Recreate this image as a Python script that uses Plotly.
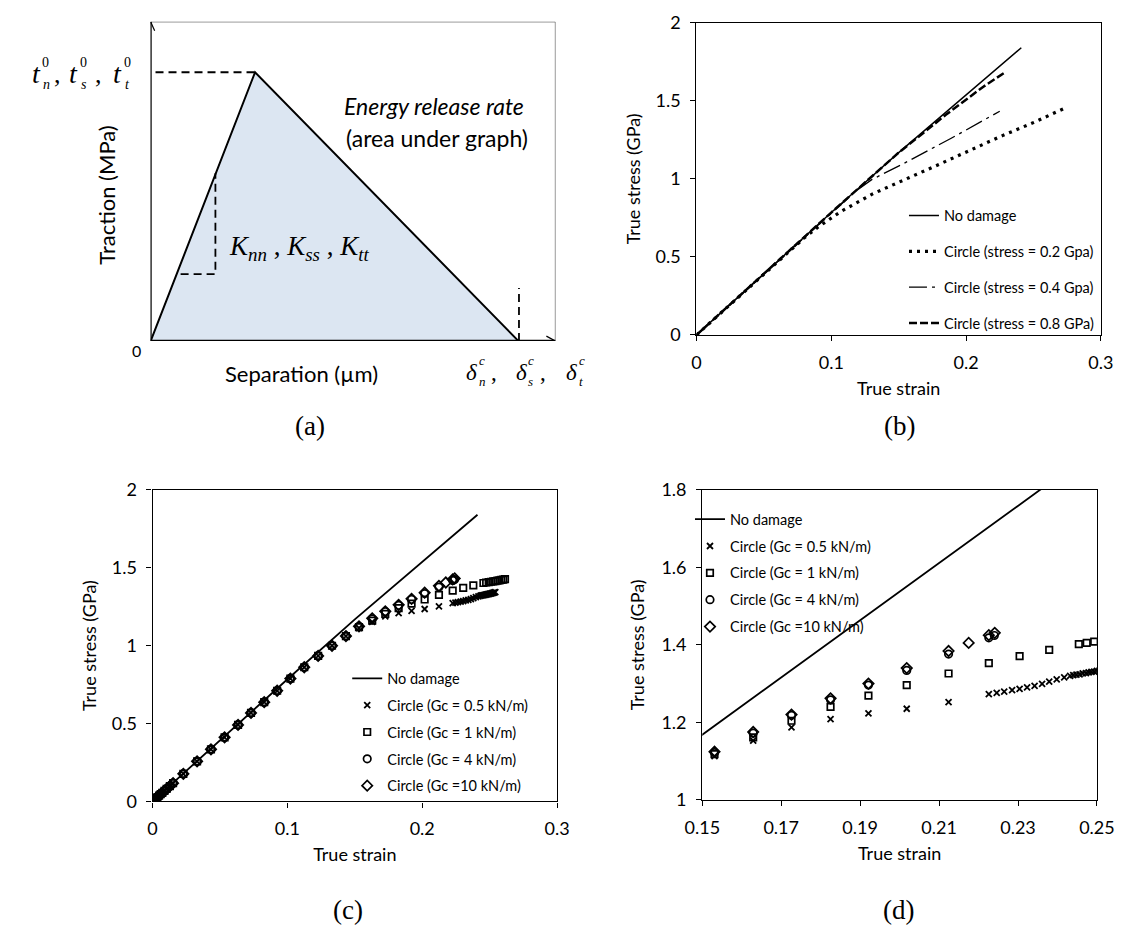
import plotly.graph_objects as go

W, H = 1135, 939
SANS = "Lato"
SERIF = "Liberation Serif"

# ---------------- Panel (a): schematic traction-separation law (normalised units)
sep_law = [0.0, 0.258, 0.909]
trac_law = [0.0, 0.842, 0.0]
peak_guide_sep = [0.012, 0.258]
peak_guide_trac = [0.842, 0.842]
slope_guide_sep = [0.074, 0.160, 0.160]
slope_guide_trac = [0.210, 0.210, 0.526]
end_guide_sep = [0.910, 0.910]
end_guide_trac = [0.0, 0.166]

# ---------------- Panel (b): stress-strain curves, circle damage with different stress
nd_strain = [0.0, 0.10, 0.15, 0.2354, 0.241]
nd_stress = [0.0, 0.784, 1.168, 1.80, 1.84]

s02_strain = [0.0, 0.05, 0.08, 0.09, 0.10, 0.107, 0.131, 0.155, 0.179, 0.203, 0.227, 0.251, 0.272]
s02_stress = [0.0, 0.392, 0.622, 0.690, 0.752, 0.790, 0.905, 0.995, 1.089, 1.183, 1.277, 1.364, 1.448]

s04_strain = [0.0, 0.10, 0.118, 0.130, 0.153, 0.189, 0.225]
s04_stress = [0.0, 0.784, 0.920, 0.995, 1.095, 1.260, 1.433]

s08_strain = [0.0, 0.10, 0.15, 0.185, 0.2126, 0.229]
s08_stress = [0.0, 0.784, 1.168, 1.410, 1.589, 1.683]

# ---------------- Panels (c) & (d): circle damage with different Gc
g05_strain = [0.0, 0.0012, 0.0024, 0.0036, 0.0048, 0.006, 0.0072, 0.0088, 0.0104, 0.0128,
              0.0152, 0.0228, 0.033, 0.0433, 0.0534, 0.0634, 0.073, 0.0828, 0.0924, 0.1022,
              0.1125, 0.1228, 0.1331, 0.1434,
              0.1531, 0.1629, 0.1726, 0.1825, 0.1921, 0.2018, 0.2124, 0.2226, 0.2246, 0.2265,
              0.2285, 0.2304, 0.2323, 0.2342, 0.2361, 0.2379, 0.2398, 0.2417, 0.2432, 0.2440,
              0.2448, 0.2456, 0.2464, 0.2472, 0.2479, 0.2486, 0.2493, 0.2500, 0.2507, 0.2514,
              0.2521, 0.2528, 0.2535, 0.2542]
g05_stress = [0.0, 0.009, 0.018, 0.028, 0.037, 0.046, 0.055, 0.067, 0.080, 0.098,
              0.117, 0.177, 0.257, 0.334, 0.411, 0.491, 0.568, 0.637, 0.710, 0.788,
              0.861, 0.934, 0.999, 1.061,
              1.113, 1.153, 1.187, 1.208, 1.223, 1.235, 1.252, 1.273, 1.276, 1.279,
              1.283, 1.286, 1.290, 1.294, 1.299, 1.305, 1.311, 1.316, 1.320, 1.322,
              1.323, 1.324, 1.326, 1.327, 1.329, 1.330, 1.331, 1.333, 1.334, 1.336,
              1.338, 1.339, 1.341, 1.343]

g1_strain = [0.0, 0.0012, 0.0024, 0.0036, 0.0048, 0.006, 0.0072, 0.0088, 0.0104, 0.0128,
             0.0152, 0.0228, 0.033, 0.0433, 0.0534, 0.0634, 0.073, 0.0828, 0.0924, 0.1022,
             0.1125, 0.1228, 0.1331, 0.1434,
             0.1531, 0.1629, 0.1726, 0.1825, 0.1921, 0.2018, 0.2124, 0.2226, 0.2304, 0.2379,
             0.2454, 0.2474, 0.2493, 0.2511, 0.2527, 0.2543, 0.2558, 0.2573, 0.2587, 0.2601,
             0.2614]
g1_stress = [0.0, 0.009, 0.018, 0.028, 0.037, 0.046, 0.055, 0.067, 0.080, 0.098,
             0.117, 0.177, 0.257, 0.334, 0.411, 0.491, 0.568, 0.637, 0.710, 0.788,
             0.861, 0.934, 0.999, 1.061,
             1.118, 1.161, 1.204, 1.240, 1.269, 1.296, 1.326, 1.353, 1.371, 1.387,
             1.402, 1.405, 1.408, 1.410, 1.412, 1.414, 1.417, 1.419, 1.422, 1.424,
             1.427]

g4_strain = [0.0, 0.0012, 0.0024, 0.0036, 0.0048, 0.006, 0.0072, 0.0088, 0.0104, 0.0128,
             0.0152, 0.0228, 0.033, 0.0433, 0.0534, 0.0634, 0.073, 0.0828, 0.0924, 0.1022,
             0.1125, 0.1228, 0.1331, 0.1434,
             0.1531, 0.1629, 0.1726, 0.1825, 0.1921, 0.2018, 0.2124, 0.2226, 0.2240]
g4_stress = [0.0, 0.009, 0.018, 0.028, 0.037, 0.046, 0.055, 0.067, 0.080, 0.098,
             0.117, 0.177, 0.257, 0.334, 0.411, 0.491, 0.568, 0.637, 0.710, 0.788,
             0.861, 0.934, 0.999, 1.061,
             1.122, 1.172, 1.218, 1.258, 1.296, 1.334, 1.376, 1.418, 1.424]

g10_strain = [0.0, 0.0012, 0.0024, 0.0036, 0.0048, 0.006, 0.0072, 0.0088, 0.0104, 0.0128,
              0.0152, 0.0228, 0.033, 0.0433, 0.0534, 0.0634, 0.073, 0.0828, 0.0924, 0.1022,
              0.1125, 0.1228, 0.1331, 0.1434,
              0.1531, 0.1629, 0.1726, 0.1825, 0.1921, 0.2018, 0.2124, 0.2175, 0.2226, 0.2241]
g10_stress = [0.0, 0.009, 0.018, 0.028, 0.037, 0.046, 0.055, 0.067, 0.080, 0.098,
              0.117, 0.177, 0.257, 0.334, 0.411, 0.491, 0.568, 0.637, 0.710, 0.788,
              0.861, 0.934, 0.999, 1.061,
              1.124, 1.175, 1.220, 1.262, 1.300, 1.340, 1.384, 1.405, 1.425, 1.431]

# tick labels
full_x_ticks = [0, 0.1, 0.2, 0.3]
full_x_text = ["0", "0.1", "0.2", "0.3"]
full_y_ticks = [0, 0.5, 1, 1.5, 2]
full_y_text = ["0", "0.5", "1", "1.5", "2"]
zoom_x_ticks = [0.15, 0.17, 0.19, 0.21, 0.23, 0.25]
zoom_x_text = ["0.15", "0.17", "0.19", "0.21", "0.23", "0.25"]
zoom_y_ticks = [1.0, 1.2, 1.4, 1.6, 1.8]
zoom_y_text = ["1", "1.2", "1.4", "1.6", "1.8"]

legend_b = ["No damage", "Circle (stress = 0.2 Gpa)", "Circle (stress = 0.4 Gpa)",
            "Circle (stress = 0.8 GPa)"]
legend_cd = ["No damage", "Circle (Gc = 0.5 kN/m)", "Circle (Gc = 1 kN/m)",
             "Circle (Gc = 4 kN/m)", "Circle (Gc =10 kN/m)"]


def px(x):
    return x / W


def py(y):
    return 1 - y / H


fig = go.Figure()

# ---------- panel (a) traces
fig.add_trace(go.Scatter(x=sep_law + [sep_law[0]], y=trac_law + [trac_law[0]],
                         xaxis="x", yaxis="y", mode="lines", fill="toself",
                         fillcolor="rgb(220,230,242)", line=dict(color="black", width=2),
                         showlegend=False, hoverinfo="skip"))
for gx, gy in [(peak_guide_sep, peak_guide_trac), (slope_guide_sep, slope_guide_trac),
               (end_guide_sep, end_guide_trac)]:
    fig.add_trace(go.Scatter(x=gx, y=gy, xaxis="x", yaxis="y", mode="lines",
                             line=dict(color="black", width=1.8, dash="8px,5px"),
                             showlegend=False, hoverinfo="skip"))

# ---------- panel (b) traces
b_styles = [
    (nd_strain, nd_stress, dict(color="black", width=1.5)),
    (s02_strain, s02_stress, dict(color="black", width=3.2, dash="3px,5px")),
    (s04_strain, s04_stress, dict(color="black", width=1.3, dash="18px,5px,3px,5px")),
    (s08_strain, s08_stress, dict(color="black", width=2.5, dash="8px,3px")),
]
for i, ((xs, ys, ln), name) in enumerate(zip(b_styles, legend_b)):
    fig.add_trace(go.Scatter(x=xs, y=ys, xaxis="x2", yaxis="y2", mode="lines", line=ln,
                             name=name, legend="legend2", legendgroup=f"b{i}"))

# ---------- panels (c) and (d)
marker_series = [
    (g05_strain, g05_stress, dict(symbol="x-thin-open", size=6, line=dict(color="black", width=1.8))),
    (g1_strain, g1_stress, dict(symbol="square-open", size=6.5, line=dict(color="black", width=1.7))),
    (g4_strain, g4_stress, dict(symbol="circle-open", size=7.5, line=dict(color="black", width=1.7))),
    (g10_strain, g10_stress, dict(symbol="diamond-open", size=8, line=dict(color="black", width=1.7))),
]
for xa, ya, lg in [("x3", "y3", "legend3"), ("x4", "y4", "legend4")]:
    fig.add_trace(go.Scatter(x=nd_strain, y=nd_stress, xaxis=xa, yaxis=ya, mode="lines",
                             line=dict(color="black", width=1.8), name=legend_cd[0],
                             legend=lg, legendgroup=lg + "0"))
    for j, (xs, ys, mk) in enumerate(marker_series):
        fig.add_trace(go.Scatter(x=xs, y=ys, xaxis=xa, yaxis=ya, mode="markers",
                                 marker=dict(color="black", **mk),
                                 name=legend_cd[j + 1], legend=lg, legendgroup=lg + str(j + 1)))


def data_axis(domain, rng, tv, tt, anchor, title, standoff):
    return dict(domain=domain, range=rng, tickvals=tv, ticktext=tt, anchor=anchor,
                ticks="outside", ticklen=5, tickwidth=1.2, tickcolor="black",
                showline=True, linecolor="black", linewidth=1.3, mirror=True,
                showgrid=False, zeroline=False, ticklabelstandoff=6,
                tickfont=dict(family=SANS, size=18, color="black"),
                title=dict(text=title, font=dict(family=SANS, size=18, color="black"),
                           standoff=standoff))


layout = dict(
    width=W, height=H, margin=dict(l=0, r=0, t=0, b=0),
    plot_bgcolor="white", paper_bgcolor="white", showlegend=True,
    xaxis=dict(domain=[px(137), px(555)], range=[0, 1], visible=False, anchor="y"),
    yaxis=dict(domain=[py(337), py(10)], range=[0, 1], visible=False, anchor="x"),
    xaxis2=data_axis([px(700.7), px(1118.3)], [0, 0.3], full_x_ticks, full_x_text, "y2", "True strain", 10),
    yaxis2=data_axis([py(330.7), py(11)], [0, 2], full_y_ticks, full_y_text, "x2", "True stress (GPa)", 10),
    xaxis3=data_axis([px(139), px(556.7)], [0, 0.3], full_x_ticks, full_x_text, "y3", "True strain", 10),
    yaxis3=data_axis([py(808.3), py(489.3)], [0, 2], full_y_ticks, full_y_text, "x3", "True stress (GPa)", 10),
    xaxis4=data_axis([px(706.7), px(1114.3)], [0.15, 0.25], zoom_x_ticks, zoom_x_text, "y4", "True strain", 10),
    yaxis4=data_axis([py(806.7), py(489.3)], [1.0, 1.8], zoom_y_ticks, zoom_y_text, "x4", "True stress (GPa)", 12),
)

leg_common = dict(bgcolor="rgba(0,0,0,0)", borderwidth=0, traceorder="grouped",
                  xanchor="left", yanchor="top", itemclick=False,
                  font=dict(family=SANS, size=14.5, color="black"))
layout["legend2"] = dict(x=px(915), y=py(192), tracegroupgap=14, **leg_common)
layout["legend3"] = dict(x=px(340), y=py(666), tracegroupgap=5, **leg_common)
layout["legend4"] = dict(x=px(694), y=py(503), tracegroupgap=5, **leg_common)
fig.update_layout(**layout)

# ---------- panel (a) frame, axes and arrows
shapes = [
    dict(type="rect", xref="x", yref="y", x0=0, x1=1, y0=0, y1=1, line=dict(color="#222", width=1)),
    dict(type="line", xref="x", yref="y", x0=0, x1=0, y0=0, y1=1, line=dict(color="black", width=2)),
    dict(type="line", xref="x", yref="y", x0=0, x1=1, y0=0, y1=0, line=dict(color="black", width=2.5)),
]
for dx, dy in [(-4, -9), (4, -9)]:
    shapes.append(dict(type="line", xref="x", yref="y", xsizemode="pixel", ysizemode="pixel",
                       xanchor=0, yanchor=1, x0=dx, y0=dy, x1=0, y1=0,
                       line=dict(color="black", width=1.2)))
for dx, dy in [(-9, 5), (-9, -5)]:
    shapes.append(dict(type="line", xref="x", yref="y", xsizemode="pixel", ysizemode="pixel",
                       xanchor=1, yanchor=0, x0=dx, y0=dy, x1=0, y1=0,
                       line=dict(color="black", width=1.2)))
fig.update_layout(shapes=shapes)

ann = []


def text(x, y, s, size, family=SANS, xanchor="center", angle=0, italic=False):
    ann.append(dict(x=px(x), y=py(y), xref="paper", yref="paper", text=s, showarrow=False,
                    xanchor=xanchor, yanchor="middle", textangle=angle,
                    font=dict(family=family, size=size, color="black",
                              style="italic" if italic else "normal")))


# panel (a) texts
text(92, 188, "Traction (MPa)", 22, angle=-90)
text(293, 370, "Separation (µm)", 22)
text(122, 347, "0", 16)
text(430, 96, "Energy release rate", 23, italic=True)
text(433, 129, "(area under graph)", 23)
text(216, 242, "<i>K</i><sub><i>nn</i></sub> , <i>K</i><sub><i>ss</i></sub> , <i>K</i><sub><i>tt</i></sub>",
     27, family=SERIF, xanchor="left")

# stacked sub/superscript labels
for x0, sub in [(12, "n"), (51, "s"), (96, "t")]:
    text(x0, 63, "t", 28, family=SERIF, xanchor="left", italic=True)
    text(x0 + 11, 52, "0", 14, family=SERIF, xanchor="left")
    text(x0 + 12, 74, sub, 14, family=SERIF, xanchor="left", italic=True)
for x0 in [35, 77]:
    text(x0, 64, ",", 26, family=SERIF, xanchor="left")
for x0, sub in [(461, "n"), (512, "s"), (564, "t")]:
    text(x0, 369, "δ", 23, family=SERIF, xanchor="left", italic=True)
    text(x0 + 13, 357, "c", 13, family=SERIF, xanchor="left", italic=True)
    text(x0 + 13, 378, sub, 13, family=SERIF, xanchor="left", italic=True)
for x0 in [486, 537]:
    text(x0, 369, ",", 23, family=SERIF, xanchor="left")

# panel labels
text(302, 424, "(a)", 27, family=SERIF)
text(910, 424, "(b)", 27, family=SERIF)
text(341, 920, "(c)", 27, family=SERIF)
text(909, 920, "(d)", 27, family=SERIF)

fig.update_layout(annotations=ann)
fig.write_html("out.html")
